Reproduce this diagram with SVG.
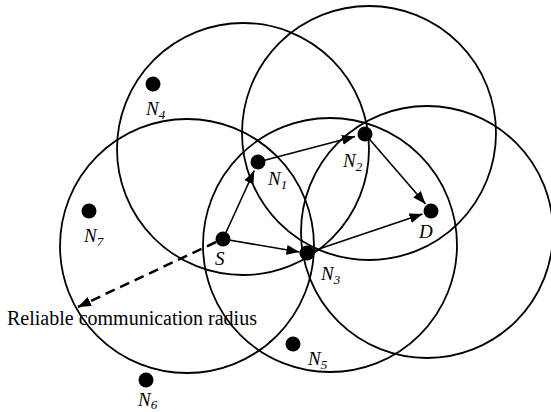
<svg xmlns="http://www.w3.org/2000/svg" width="551" height="412" viewBox="0 0 551 412">
<style>
.r{fill:none;stroke:#000;stroke-width:1.8}
.d{fill:#000}
.e{stroke:#000;stroke-width:1.6;fill:none}
.dash{stroke:#000;stroke-width:2.5;fill:none;stroke-dasharray:10 6}
.l{font-family:"Liberation Serif","Times New Roman",serif;font-style:italic;font-size:19px;fill:#000}
.s{font-size:13px}
.t{font-family:"Liberation Serif","Times New Roman",serif;font-size:20px;fill:#000}
</style>
<defs>
<marker id="ah" markerUnits="userSpaceOnUse" markerWidth="14" markerHeight="12" refX="13" refY="6" orient="auto">
<path d="M0,1 L13,6 L0,11 Z" fill="#000"/>
</marker>
</defs>
<g id="ranges">
<circle class="r" cx="243" cy="149" r="126"/>
<circle class="r" cx="369" cy="133" r="127"/>
<circle class="r" cx="187" cy="246" r="127"/>
<circle class="r" cx="330" cy="245" r="127"/>
<circle class="r" cx="427" cy="232" r="126"/>
</g>
<g id="connectors">
<line class="e" x1="223" y1="239" x2="254.3" y2="170.5" marker-end="url(#ah)"/>
<line class="e" x1="258" y1="162" x2="355" y2="136.5" marker-end="url(#ah)"/>
<line class="e" x1="365" y1="134" x2="425.5" y2="204" marker-end="url(#ah)"/>
<line class="e" x1="223" y1="239" x2="299.5" y2="252" marker-end="url(#ah)"/>
<line class="e" x1="307" y1="253" x2="422.5" y2="214" marker-end="url(#ah)"/>
<line class="dash" x1="216" y1="242" x2="78" y2="307" marker-end="url(#ah)"/>
</g>
<g id="S"><circle class="d" cx="223" cy="239" r="7.5"/><text class="l" x="215" y="265">S</text></g>
<g id="N1"><circle class="d" cx="258" cy="162" r="7.5"/><text class="l" x="268" y="185">N<tspan class="s" dy="4">1</tspan></text></g>
<g id="N2"><circle class="d" cx="365" cy="134" r="7.5"/><text class="l" x="343" y="167">N<tspan class="s" dy="4">2</tspan></text></g>
<g id="N3"><circle class="d" cx="307" cy="253" r="7.5"/><text class="l" x="321" y="280">N<tspan class="s" dy="4">3</tspan></text></g>
<g id="D"><circle class="d" cx="431" cy="211" r="7.5"/><text class="l" x="419" y="238">D</text></g>
<g id="N4"><circle class="d" cx="153" cy="84" r="7.5"/><text class="l" x="146" y="115">N<tspan class="s" dy="4">4</tspan></text></g>
<g id="N5"><circle class="d" cx="293" cy="344" r="7.5"/><text class="l" x="308" y="365">N<tspan class="s" dy="4">5</tspan></text></g>
<g id="N6"><circle class="d" cx="146" cy="380" r="7.5"/><text class="l" x="138" y="406">N<tspan class="s" dy="3">6</tspan></text></g>
<g id="N7"><circle class="d" cx="89" cy="211" r="7.5"/><text class="l" x="84" y="242">N<tspan class="s" dy="4">7</tspan></text></g>
<g id="label"><text class="t" x="7" y="325">Reliable communication radius</text></g>
</svg>
